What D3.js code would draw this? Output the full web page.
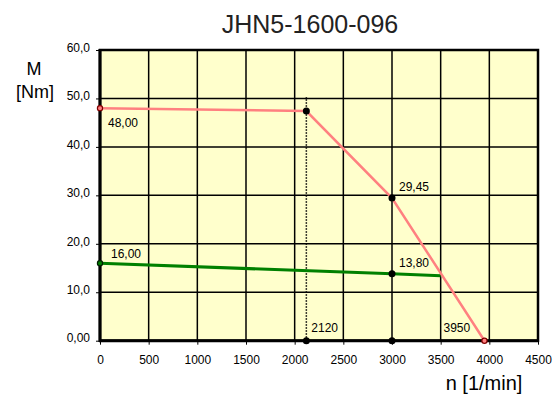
<!DOCTYPE html>
<html><head><meta charset="utf-8">
<script src="https://cdn.jsdelivr.net/npm/d3@7"></script>
<style>body{margin:0;background:#fff}svg{display:block;font-family:"Liberation Sans",Arial,sans-serif}</style>
</head><body><svg id="c" width="553" height="395"></svg>
<script>
const title = "JHN5-1600-096";
const xTicks = [0,500,1000,1500,2000,2500,3000,3500,4000,4500];
const yTicks = [0,10,20,30,40,50,60];
const yTickLabels = ["0,00","10,0","20,0","30,0","40,0","50,0","60,0"];
const redN = [0,2120,3000,3950];
const redM = [48.0,47.4,29.45,0];
const greenN = [0,3000,3500];
const greenM = [16.0,13.8,13.4];
const markN = 2120;
const markTop = 50.3;
const blackDots = [[2120,47.4],[3000,29.45],[3000,13.8],[2120,0],[3000,0]];
const labels = [
  {n:0,m:48.0,t:"48,00",dx:8,dy:19},
  {n:0,m:16.0,t:"16,00",dx:11,dy:-5},
  {n:3000,m:29.45,t:"29,45",dx:7,dy:-7},
  {n:3000,m:13.8,t:"13,80",dx:7,dy:-7},
  {n:2120,m:0,t:"2120",dx:5,dy:-9},
  {n:3950,m:0,t:"3950",dx:-41,dy:-9}
];

const svg = d3.select("#c");
const x = d3.scaleLinear().domain([0,4500]).range([100,538]);
const y = d3.scaleLinear().domain([0,60]).range([340.7,50]);

svg.append("rect").attr("x",x(0)).attr("y",y(60)).attr("width",x(4500)-x(0)).attr("height",y(0)-y(60)).attr("fill","#FFFFCC");

// grid
svg.append("g").selectAll("line").data(xTicks.slice(1,-1)).join("line")
  .attr("x1",d=>x(d)).attr("x2",d=>x(d)).attr("y1",y(0)).attr("y2",y(60))
  .attr("stroke","#000").attr("stroke-width",1.5);
svg.append("g").selectAll("line").data(yTicks.slice(1,-1)).join("line")
  .attr("x1",x(0)).attr("x2",x(4500)).attr("y1",d=>y(d)).attr("y2",d=>y(d))
  .attr("stroke","#000").attr("stroke-width",1.5);
// border
svg.append("rect").attr("x",x(0)).attr("y",y(60)).attr("width",x(4500)-x(0)).attr("height",y(0)-y(60))
  .attr("fill","none").attr("stroke","#000").attr("stroke-width",2.5);
svg.append("line").attr("x1",x(0)-1).attr("x2",x(4500)+1).attr("y1",y(0)).attr("y2",y(0)).attr("stroke","#000").attr("stroke-width",3);
svg.append("line").attr("x1",x(0)).attr("x2",x(0)).attr("y1",y(60)-1).attr("y2",y(0)+1).attr("stroke","#000").attr("stroke-width",3);

// axes
const xa = svg.append("g").attr("transform",`translate(0,${y(0)})`)
  .call(d3.axisBottom(x).tickValues(xTicks).tickFormat(d3.format("d")).tickSize(4).tickPadding(11));
const ya = svg.append("g").attr("transform",`translate(${x(0)},0)`)
  .call(d3.axisLeft(y).tickValues(yTicks).tickFormat((d,i)=>yTickLabels[i]).tickSize(4).tickPadding(6));
[xa,ya].forEach(a=>{a.select(".domain").remove();a.selectAll("text").attr("font-size",12).attr("fill","#000").attr("font-family","Liberation Sans, Arial, sans-serif");a.selectAll(".tick line").attr("stroke","#000");});
ya.selectAll("text").attr("dy","0.1em");

// dotted vertical
svg.append("line").attr("x1",x(markN)).attr("x2",x(markN)).attr("y1",y(0)).attr("y2",y(markTop))
  .attr("stroke","#000").attr("stroke-width",1.5).attr("stroke-dasharray","1.5,1.5");

const line = d3.line().x(d=>x(d[0])).y(d=>y(d[1]));
svg.append("path").datum(greenN.map((n,i)=>[n,greenM[i]])).attr("d",line)
  .attr("fill","none").attr("stroke","#008000").attr("stroke-width",3);
svg.append("path").datum(redN.map((n,i)=>[n,redM[i]])).attr("d",line)
  .attr("fill","none").attr("stroke","#FF8080").attr("stroke-width",2.5);

svg.append("g").selectAll("circle").data(blackDots).join("circle")
  .attr("cx",d=>x(d[0])).attr("cy",d=>y(d[1])).attr("r",3.5).attr("fill","#000");
svg.append("circle").attr("cx",x(0)).attr("cy",y(48)).attr("r",2.6).attr("fill","#FF8080").attr("stroke","#800000").attr("stroke-width",1.2);
svg.append("circle").attr("cx",x(0)).attr("cy",y(16)).attr("r",2.6).attr("fill","#008000").attr("stroke","#002000").attr("stroke-width",1.2);
svg.append("circle").attr("cx",x(3950)).attr("cy",y(0)).attr("r",2.6).attr("fill","#FF8080").attr("stroke","#800000").attr("stroke-width",1.2);

svg.append("g").selectAll("text").data(labels).join("text")
  .attr("x",d=>x(d.n)+d.dx).attr("y",d=>y(d.m)+d.dy).text(d=>d.t)
  .attr("font-size",12).attr("fill","#000");

svg.append("text").attr("x",310).attr("y",33).attr("text-anchor","middle").attr("font-size",25).attr("fill","#222").text(title);
svg.append("text").attr("x",34).attr("y",75).attr("text-anchor","middle").attr("font-size",18).text("M");
svg.append("text").attr("x",35).attr("y",98).attr("text-anchor","middle").attr("font-size",18).text("[Nm]");
svg.append("text").attr("x",484).attr("y",390).attr("text-anchor","middle").attr("font-size",20).text("n [1/min]");
</script></body></html>
